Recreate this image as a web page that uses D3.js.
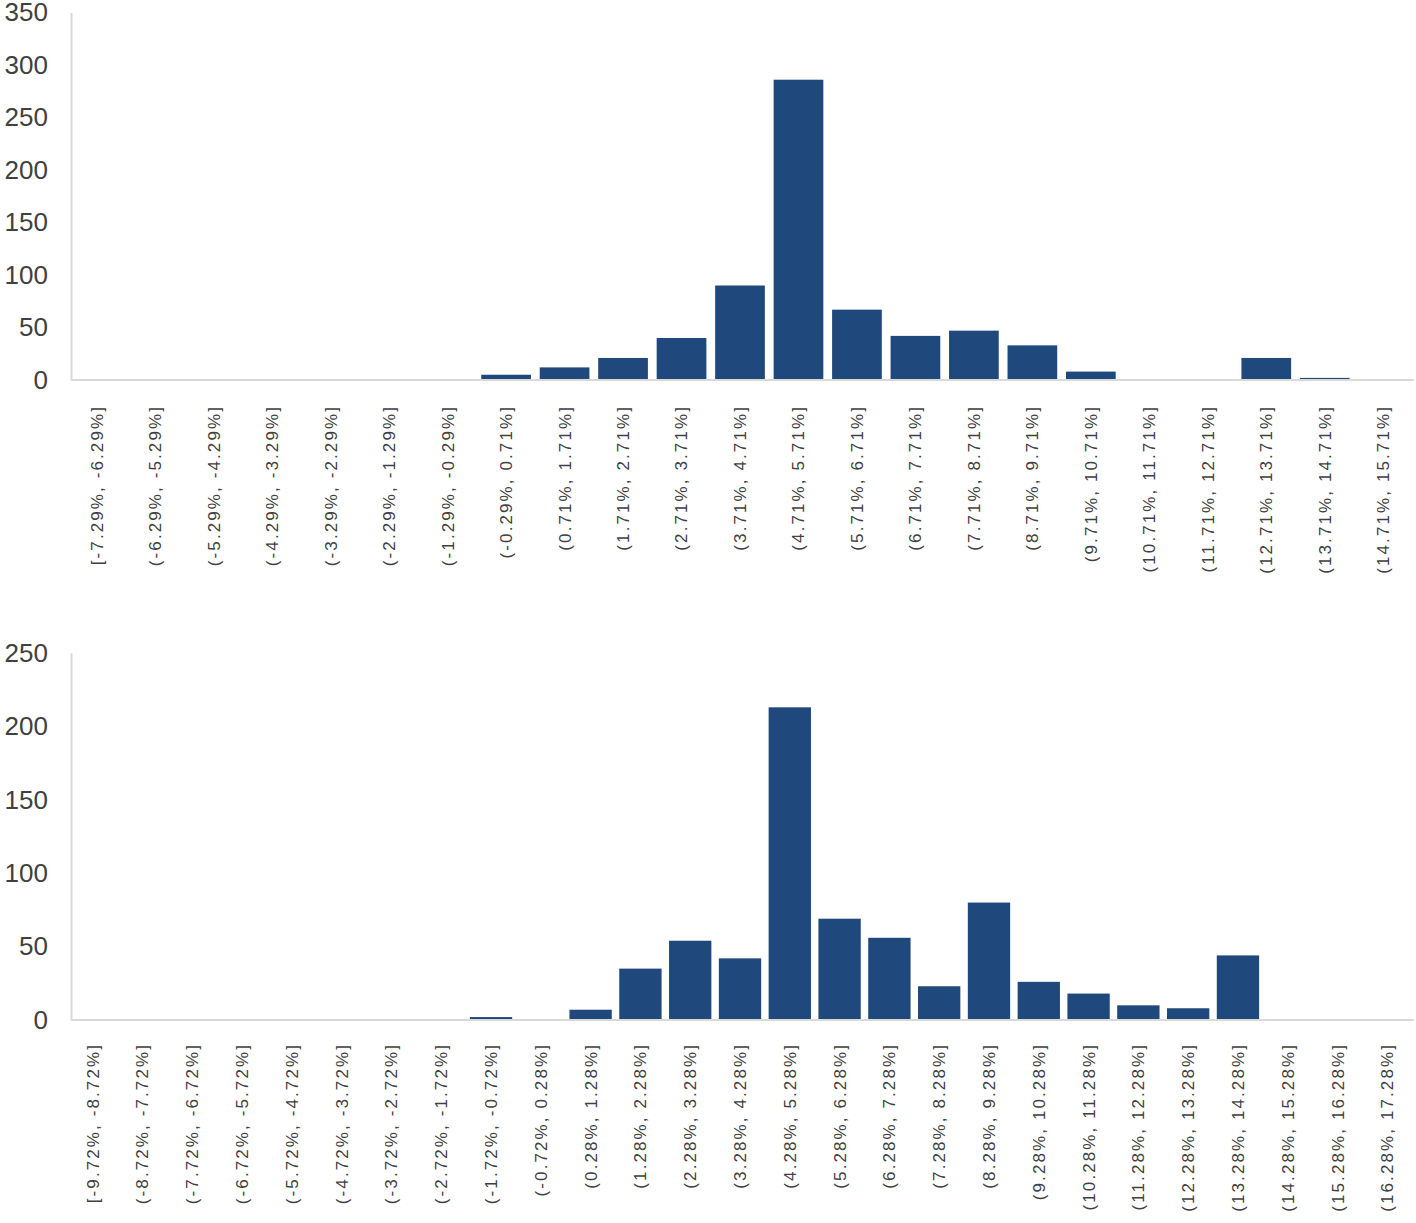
<!DOCTYPE html>
<html>
<head>
<meta charset="utf-8">
<script src="https://cdn.jsdelivr.net/npm/d3@7"></script>
<style>
  html, body { margin: 0; padding: 0; background: #fff; }
  svg { display: block; font-family: 'Liberation Sans', Arial, sans-serif; }
</style>
</head>
<body>
<svg id="chart" width="1416" height="1223"></svg>
<script>
// Top histogram
const topBins = [
  '[-7.29%, -6.29%]', '(-6.29%, -5.29%]', '(-5.29%, -4.29%]', '(-4.29%, -3.29%]',
  '(-3.29%, -2.29%]', '(-2.29%, -1.29%]', '(-1.29%, -0.29%]', '(-0.29%, 0.71%]',
  '(0.71%, 1.71%]', '(1.71%, 2.71%]', '(2.71%, 3.71%]', '(3.71%, 4.71%]',
  '(4.71%, 5.71%]', '(5.71%, 6.71%]', '(6.71%, 7.71%]', '(7.71%, 8.71%]',
  '(8.71%, 9.71%]', '(9.71%, 10.71%]', '(10.71%, 11.71%]', '(11.71%, 12.71%]',
  '(12.71%, 13.71%]', '(13.71%, 14.71%]', '(14.71%, 15.71%]'
];
const topCounts = [0, 0, 0, 0, 0, 0, 0, 5, 12, 21, 40, 90, 286, 67, 42, 47, 33, 8, 0, 0, 21, 2, 0];
const topTicks = [0, 50, 100, 150, 200, 250, 300, 350];

// Bottom histogram
const bottomBins = [
  '[-9.72%, -8.72%]', '(-8.72%, -7.72%]', '(-7.72%, -6.72%]', '(-6.72%, -5.72%]',
  '(-5.72%, -4.72%]', '(-4.72%, -3.72%]', '(-3.72%, -2.72%]', '(-2.72%, -1.72%]',
  '(-1.72%, -0.72%]', '(-0.72%, 0.28%]', '(0.28%, 1.28%]', '(1.28%, 2.28%]',
  '(2.28%, 3.28%]', '(3.28%, 4.28%]', '(4.28%, 5.28%]', '(5.28%, 6.28%]',
  '(6.28%, 7.28%]', '(7.28%, 8.28%]', '(8.28%, 9.28%]', '(9.28%, 10.28%]',
  '(10.28%, 11.28%]', '(11.28%, 12.28%]', '(12.28%, 13.28%]', '(13.28%, 14.28%]',
  '(14.28%, 15.28%]', '(15.28%, 16.28%]', '(16.28%, 17.28%]'
];
const bottomCounts = [0, 0, 0, 0, 0, 0, 0, 0, 2, 0, 7, 35, 54, 42, 213, 69, 56, 23, 80, 26, 18, 10, 8, 44, 0, 0, 0];
const bottomTicks = [0, 50, 100, 150, 200, 250];

const svg = d3.select('#chart');
const barColor = '#1f497d';
const axisColor = '#d9d9d9';
const textColor = '#404040';

function drawHistogram(bins, counts, ticks, box) {
  const g = svg.append('g');

  // band range nudged a little left of the axis span, as in the original
  const x = d3.scaleBand()
    .domain(bins)
    .range([box.left - 2, box.right - 3])
    .paddingInner(0.15)
    .paddingOuter(0.05);

  const y = d3.scaleLinear()
    .domain([0, d3.max(ticks)])
    .range([box.bottom, box.top]);

  // Y axis
  const yAxis = g.append('g')
    .attr('transform', `translate(${box.left},0)`)
    .call(d3.axisLeft(y).tickValues(ticks).tickSize(0).tickPadding(23));
  yAxis.select('.domain').attr('stroke', axisColor).attr('stroke-width', 2);
  yAxis.selectAll('text')
    .attr('fill', textColor)
    .attr('font-size', '26px')
    .attr('font-family', "'Liberation Sans', Arial, sans-serif");

  // Bars
  g.selectAll('rect.bar')
    .data(counts)
    .join('rect')
    .attr('class', 'bar')
    .attr('x', (d, i) => x(bins[i]))
    .attr('width', x.bandwidth())
    .attr('y', d => y(d))
    .attr('height', d => box.bottom - y(d))
    .attr('fill', barColor);

  // X axis
  const xAxis = g.append('g')
    .attr('transform', `translate(0,${box.bottom})`)
    .call(d3.axisBottom(x).tickSize(0).tickSizeOuter(0));
  xAxis.select('.domain')
    .attr('d', `M${box.left},0H${box.right}`)
    .attr('stroke', axisColor)
    .attr('stroke-width', 2);
  xAxis.selectAll('text')
    .attr('transform', 'rotate(-90)')
    .attr('x', -box.labelGap)
    .attr('y', 0)
    .attr('dy', '0.35em')
    .style('text-anchor', 'end')
    .attr('fill', textColor)
    .attr('font-size', '17px')
    .attr('letter-spacing', '2.1px')
    .attr('font-family', "'Liberation Sans', Arial, sans-serif");
}

drawHistogram(topBins, topCounts, topTicks,
  { left: 71, right: 1414, top: 12.5, bottom: 380, labelGap: 25 });
drawHistogram(bottomBins, bottomCounts, bottomTicks,
  { left: 71, right: 1414, top: 653, bottom: 1020, labelGap: 23 });
</script>
</body>
</html>
